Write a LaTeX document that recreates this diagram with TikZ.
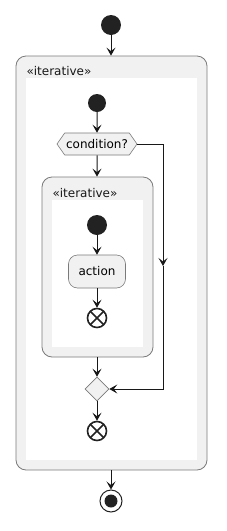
\documentclass[tikz,border=0pt]{standalone}
\usepackage{fontspec}
\setmainfont{DejaVu Sans}
\usetikzlibrary{arrows.meta,shapes.geometric,shapes.symbols}
\definecolor{boxfill}{HTML}{F1F1F1}
\definecolor{rim}{HTML}{7A7A7A}
\definecolor{ink}{HTML}{181818}
\definecolor{dot}{HTML}{222222}

\begin{document}
\begin{tikzpicture}[x=1pt, y=-1pt, font=\fontsize{12}{14}\selectfont,
  >={Stealth[length=8pt, width=9pt, inset=3.5pt]},
  flow/.style={->, ink, line width=1pt},
  startdot/.style={circle, fill=dot, minimum size=20pt, inner sep=0pt},
  stopx/.style={circle, draw=dot, line width=1.6pt, minimum size=19pt, inner sep=0pt,
    path picture={\draw[dot, line width=1.6pt]
      (path picture bounding box.north west) -- (path picture bounding box.south east)
      (path picture bounding box.north east) -- (path picture bounding box.south west);}},
  stopdot/.style={circle, draw=dot, line width=1pt, minimum size=22pt, inner sep=0pt,
    path picture={\fill[dot] (path picture bounding box.center) circle (6.5pt);}},
  groupbox/.style={draw=rim, fill=boxfill, rounded corners=10pt, line width=0.8pt, inner sep=0pt},
  actbox/.style={draw=rim, fill=boxfill, rounded corners=9pt, line width=0.6pt, minimum width=57pt, minimum height=33pt},
  testbox/.style={signal, signal to=west and east, signal pointer angle=110, draw=rim, fill=boxfill,
    line width=0.6pt, minimum width=80pt, minimum height=22pt, inner sep=0pt},
  mergebox/.style={diamond, draw=rim, fill=boxfill, line width=0.6pt, minimum size=24pt, inner sep=0pt},
  tag/.style={anchor=west, text=ink}]
  \useasboundingbox (0,0) rectangle (226,531);
  % outer loop group
  \node[startdot] (start) at (111,25) {};
  \node[groupbox, minimum width=191pt, minimum height=414pt] (outer) at (111.5,263) {};
  \fill[white] (26,78) rectangle (197,460);
  \node[tag] (outertag) at (23,71) {«iterative»};
  \node[startdot, minimum size=18pt] (outerstart) at (97,103) {};
  \node[testbox] (cond) at (97,144) {condition?};
  % inner loop group
  \node[groupbox, minimum width=111pt, minimum height=180pt] (inner) at (97.5,267) {};
  \fill[white] (52,200) rectangle (143,347);
  \node[tag] (innertag) at (49,193) {«iterative»};
  \node[startdot] (innerstart) at (97,225) {};
  \node[actbox] (action) at (97,271.5) {action};
  \node[stopx] (innerstop) at (97,318) {};
  % join and end
  \node[mergebox] (merge) at (97,389) {};
  \node[stopx] (outerstop) at (97,431) {};
  \node[stopdot] (stop) at (111,501) {};
  \coordinate (bypass) at (163,266);
  % connectors
  \draw[flow] (start) -- (start |- outer.north);
  \draw[flow] (outerstart) -- (cond);
  \draw[flow] (cond) -- (cond |- inner.north);
  \draw[flow] (innerstart) -- (action);
  \draw[flow] (action) -- (innerstop);
  \draw[flow] (inner.south -| merge) -- (merge);
  \draw[flow] (cond.east) -| (bypass);
  \draw[flow] (bypass) |- (merge.east);
  \draw[flow] (merge) -- (outerstop);
  \draw[flow] (outer.south -| stop) -- (stop);
\end{tikzpicture}
\end{document}
